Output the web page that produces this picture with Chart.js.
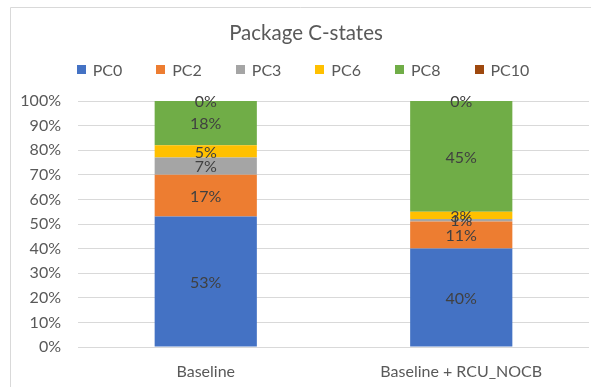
<!DOCTYPE html>
<html>
<head>
<meta charset="utf-8">
<title>Package C-states</title>
<script src="https://cdn.jsdelivr.net/npm/chart.js@4/dist/chart.umd.min.js"></script>
<style>
  html, body { margin: 0; padding: 0; background: #ffffff; }
  #wrap { width: 591px; height: 387px; }
</style>
</head>
<body>
<div id="wrap"><canvas id="chart" width="591" height="387"></canvas></div>
<script>
// Package C-state residency, percent of time per configuration
const categories = ['Baseline', 'Baseline + RCU_NOCB'];
const stateNames = ['PC0', 'PC2', 'PC3', 'PC6', 'PC8', 'PC10'];
const pc0 = [53, 40];
const pc2 = [17, 11];
const pc3 = [7, 1];
const pc6 = [5, 3];
const pc8 = [18, 45];
const pc10 = [0, 0];
const stateColors = ['#4472C4', '#ED7D31', '#A5A5A5', '#FFC000', '#70AD47', '#9E480E'];
const chartTitle = 'Package C-states';

const FONT = 'Lato, "Noto Sans", sans-serif';
const seriesValues = [pc0, pc2, pc3, pc6, pc8, pc10];

// Frame, title and legend drawn in the canvas
const decorPlugin = {
  id: 'decor',
  beforeDraw(chart) {
    const ctx = chart.ctx;
    ctx.save();
    ctx.strokeStyle = '#d9d9d9';
    ctx.lineWidth = 1;
    ctx.beginPath();
    ctx.moveTo(10.5, chart.height);
    ctx.lineTo(10.5, 7.5);
    ctx.lineTo(chart.width, 7.5);
    ctx.stroke();
    ctx.restore();
  },
  afterDraw(chart) {
    const ctx = chart.ctx;
    ctx.save();
    // title
    ctx.fillStyle = '#595959';
    ctx.font = '20.5px ' + FONT;
    ctx.textAlign = 'center';
    ctx.textBaseline = 'middle';
    ctx.fillText(chartTitle, 306, 33);

    // legend
    ctx.font = '16px ' + FONT;
    ctx.textAlign = 'left';
    const box = 9, gapText = 7, gapItem = 34;
    const items = chart.data.datasets.map(ds => ({
      label: ds.label,
      color: ds.backgroundColor,
      w: box + gapText + ctx.measureText(ds.label).width
    }));
    const total = items.reduce((s, it) => s + it.w, 0) + gapItem * (items.length - 1);
    let x = 303 - total / 2;
    const cy = 69.5;
    items.forEach(it => {
      ctx.fillStyle = it.color;
      ctx.fillRect(Math.round(x), Math.round(cy - box / 2), box, box);
      ctx.fillStyle = '#595959';
      ctx.fillText(it.label, x + box + gapText, cy + 1);
      x += it.w + gapItem;
    });
    ctx.restore();
  },
  // value labels centred in each segment
  afterDatasetsDraw(chart) {
    const ctx = chart.ctx;
    ctx.save();
    ctx.font = '16px ' + FONT;
    ctx.fillStyle = '#404040';
    ctx.textAlign = 'center';
    ctx.textBaseline = 'middle';
    chart.data.datasets.forEach((ds, i) => {
      const meta = chart.getDatasetMeta(i);
      meta.data.forEach((bar, j) => {
        const p = bar.getProps(['x', 'y', 'base'], true);
        ctx.fillText(ds.data[j] + '%', p.x, (p.y + p.base) / 2 + 1);
      });
    });
    ctx.restore();
  }
};

new Chart(document.getElementById('chart'), {
  type: 'bar',
  data: {
    labels: categories,
    datasets: stateNames.map((name, i) => ({
      label: name,
      data: seriesValues[i],
      backgroundColor: stateColors[i],
      borderWidth: 0,
      categoryPercentage: 1.0,
      barPercentage: 0.4
    }))
  },
  options: {
    responsive: false,
    animation: false,
    devicePixelRatio: 1,
    layout: { padding: { top: 101, right: 2, bottom: 0, left: 0 } },
    plugins: {
      legend: { display: false },
      title: { display: false },
      tooltip: { enabled: false }
    },
    scales: {
      x: {
        stacked: true,
        grid: { display: false, drawTicks: false },
        border: { display: false },
        ticks: {
          color: '#595959',
          font: { family: FONT, size: 16 },
          padding: 15,
          maxRotation: 0
        },
        afterFit(scale) { scale.height = 40; }
      },
      y: {
        stacked: true,
        min: 0,
        max: 100,
        grid: { color: '#d9d9d9', lineWidth: 1, drawTicks: false },
        border: { display: false },
        ticks: {
          stepSize: 10,
          color: '#595959',
          font: { family: FONT, size: 16 },
          padding: 17,
          callback: v => v + '%'
        },
        afterFit(scale) { scale.width = 78; }
      }
    }
  },
  plugins: [decorPlugin]
});
</script>
</body>
</html>
